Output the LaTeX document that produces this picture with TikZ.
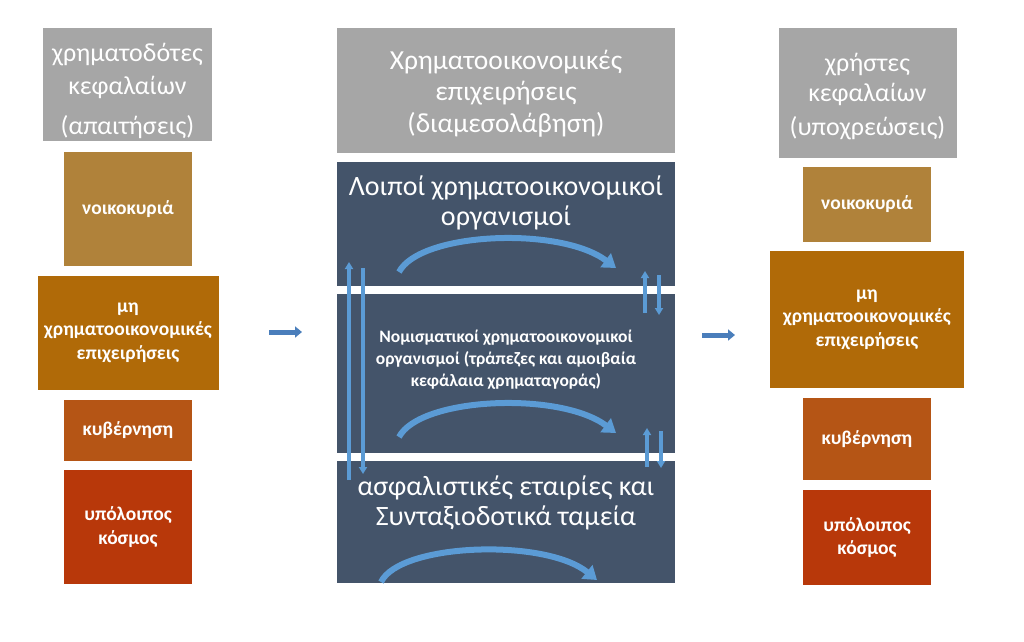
\documentclass[tikz,border=0pt]{standalone}
\usepackage{fontspec}
\setmainfont{Carlito}
\usetikzlibrary{arrows.meta}
\definecolor{hdrgray}{HTML}{A6A6A6}
\definecolor{cgold}{HTML}{B0823A}
\definecolor{corange}{HTML}{B06A08}
\definecolor{crust}{HTML}{B55515}
\definecolor{cred}{HTML}{B8380A}
\definecolor{panel}{HTML}{44546A}
\definecolor{flowblue}{HTML}{5B9BD5}
\definecolor{bigarrow}{HTML}{4A7EBB}
\tikzset{
  hdr/.style={draw=none, fill=hdrgray, inner sep=0pt},
  hdrtxt/.style={inner sep=0pt, text=white, align=center, font=\fontsize{26}{30}\selectfont},
  sector/.style={draw=none, inner sep=0pt, text=white, align=center, font=\bfseries\fontsize{19.5}{23.5}\selectfont},
  paneltxt/.style={inner sep=0pt, text=white, align=center},
  flow/.style={draw=flowblue, line width=6pt, -{Triangle[length=13pt,width=17pt]}},
  vflow/.style={draw=flowblue, line width=3.5pt, -{Triangle[length=7pt,width=8pt]}},
  bigflow/.style={draw=bigarrow, line width=5pt, -{Triangle[length=7pt,width=11pt]}}
}
\begin{document}
\begin{tikzpicture}[x=1pt,y=-1pt]
\useasboundingbox[fill=white] (0,0) rectangle (1024,641);
% left column
\node[hdr, minimum width=169pt, minimum height=113pt] (lh) at (127.5,84.5) {};
\node[hdrtxt] (lht) at (127.5,90.5) {χρηματοδότες\\[3pt] κεφαλαίων\\[10pt] (απαιτήσεις)};
\node[sector, fill=cgold, minimum width=128pt, minimum height=114pt] (l1) at (128,209) {νοικοκυριά};
\node[sector, fill=corange, minimum width=181pt, minimum height=114pt] (l2) at (128,332.5) {μη\\ χρηματοοικονομικές\\ επιχειρήσεις};
\node[sector, fill=crust, minimum width=128pt, minimum height=61pt] (l3) at (128,430) {κυβέρνηση};
\node[sector, fill=cred, minimum width=128pt, minimum height=114pt] (l4) at (128,527) {υπόλοιπος\\ κόσμος};
% right column
\node[hdr, minimum width=178pt, minimum height=130pt] (rh) at (867.5,93) {};
\node[hdrtxt] (rht) at (867.5,96.5) {χρήστες\\[0pt] κεφαλαίων\\[4pt] (υποχρεώσεις)};
\node[sector, fill=cgold, minimum width=128pt, minimum height=75pt] (r1) at (867,204.5) {νοικοκυριά};
\node[sector, fill=corange, minimum width=194pt, minimum height=137pt] (r2) at (867,319.5) {μη\\ χρηματοοικονομικές\\ επιχειρήσεις};
\node[sector, fill=crust, minimum width=128pt, minimum height=82pt] (r3) at (867,439) {κυβέρνηση};
\node[sector, fill=cred, minimum width=128pt, minimum height=95pt] (r4) at (867,537.5) {υπόλοιπος\\ κόσμος};
% center column
\node[hdr, minimum width=338pt, minimum height=125pt] (ch) at (506,90.5) {};
\node[hdrtxt, font=\fontsize{27.5}{31.5}\selectfont] (cht) at (506,93.5) {Χρηματοοικονομικές\\ επιχειρήσεις\\ (διαμεσολάβηση)};
\node[fill=panel, minimum width=338pt, minimum height=124pt, inner sep=0pt] (p1) at (506,224) {};
\node[fill=panel, minimum width=338pt, minimum height=159pt, inner sep=0pt] (p2) at (506,373.5) {};
\node[fill=panel, minimum width=338pt, minimum height=122pt, inner sep=0pt] (p3) at (506,522) {};
\node[paneltxt, font=\fontsize{28}{30}\selectfont] (t1) at (506,203) {Λοιποί χρηματοοικονομικοί\\ οργανισμοί};
\node[paneltxt, font=\bfseries\fontsize{17.5}{22}\selectfont] (t2) at (506,360) {Νομισματικοί χρηματοοικονομικοί\\ οργανισμοί (τράπεζες και αμοιβαία\\ κεφάλαια χρηματαγοράς)};
\node[paneltxt, font=\fontsize{28}{30}\selectfont] (t3) at (506,503) {ασφαλιστικές εταιρίες και\\ Συνταξιοδοτικά ταμεία};
% curved flows
\coordinate (a1s) at (399,272);
\coordinate (a1e) at (616,268);
\coordinate (a2s) at (399,437);
\coordinate (a2e) at (616,433);
\coordinate (a3s) at (381,582);
\coordinate (a3e) at (597,580);
\draw[flow] (a1s) .. controls (420,232) and (560,226) .. (a1e);
\draw[flow] (a2s) .. controls (420,397) and (560,391) .. (a2e);
\draw[flow] (a3s) .. controls (400,543) and (545,538) .. (a3e);
% vertical flows left
\coordinate (vl1b) at (349,480);
\coordinate (vl1t) at (349,262);
\coordinate (vl2t) at (363,268);
\coordinate (vl2b) at (363,474);
\draw[vflow] (vl1b) -- (vl1t);
\draw[vflow] (vl2t) -- (vl2b);
% vertical flows right
\coordinate (vr1b) at (645,313);
\coordinate (vr1t) at (645,271);
\coordinate (vr2t) at (659,275);
\coordinate (vr2b) at (659,315);
\draw[vflow] (vr1b) -- (vr1t);
\draw[vflow] (vr2t) -- (vr2b);
\coordinate (vr3b) at (647,467);
\coordinate (vr3t) at (647,428);
\coordinate (vr4t) at (661,431);
\coordinate (vr4b) at (661,468);
\draw[vflow] (vr3b) -- (vr3t);
\draw[vflow] (vr4t) -- (vr4b);
% horizontal arrows
\coordinate (hl1) at (269,332);
\coordinate (hl2) at (302,332);
\coordinate (hr1) at (702,335);
\coordinate (hr2) at (735,335);
\draw[bigflow] (hl1) -- (hl2);
\draw[bigflow] (hr1) -- (hr2);
\end{tikzpicture}
\end{document}
